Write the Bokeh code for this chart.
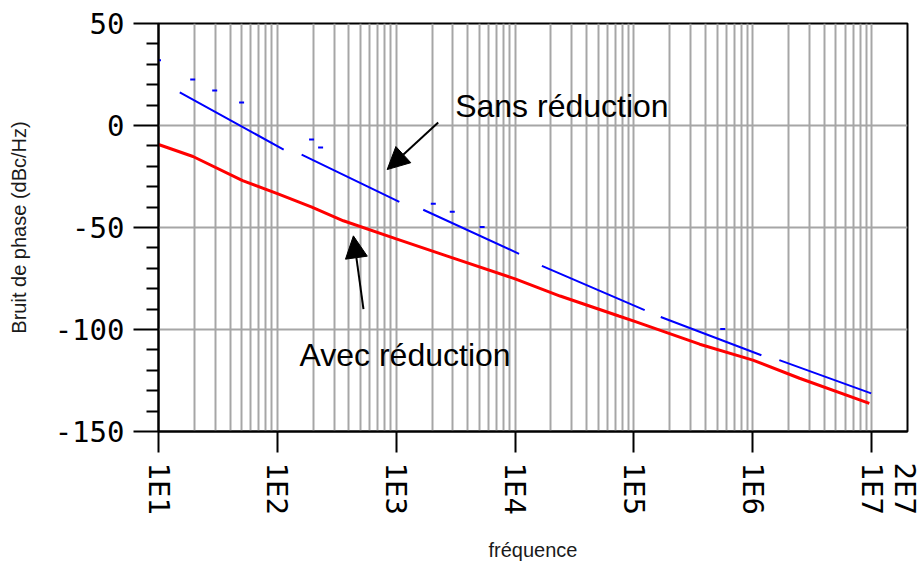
import math
from bokeh.plotting import figure
from bokeh.models import LogAxis, FixedTicker, Arrow, NormalHead, Label
from bokeh.embed import file_html
from bokeh.resources import INLINE

# ---- data ----
nan = float("nan")
freq_avec = [10, 19.5, 51, 100, 195, 359, 1000, 2850, 1.0e4, 2.39e4, 7.45e4, 1.0e5, 3.57e5, 1.0e6, 2.47e6, 9.55e6]
bruit_avec = [-9.3, -15.2, -27.0, -33.4, -40.0, -46.7, -55.6, -64.5, -75.2, -83.6, -93.4, -95.9, -107.2, -115.0, -123.9, -136.2]

freq_sans = [15.1, 113, nan, 160, 1062, nan, 1687, 10800, nan, 16800, 123000, nan, 168000, 1.18e6, nan, 1.67e6, 9.9e6]
bruit_sans = [16.2, -11.8, nan, -14.3, -37.4, nan, -41.3, -62.9, nan, -68.8, -90.5, nan, -93.9, -112.6, nan, -115.0, -131.3]

freq_spurs = [10, 19.4, 29.7, 50, 194, 231, 2050, 2960, 5280, 558000]
bruit_spurs = [32.0, 22.6, 17.2, 11.3, -6.9, -10.8, -38.4, -42.3, -49.7, -99.8]

x_ticks = [10, 100, 1000, 10000, 100000, 1000000, 10000000, 20000000]
x_tick_labels = ["1E1", "1E2", "1E3", "1E4", "1E5", "1E6", "1E7", "2E7"]
y_ticks = [-150, -100, -50, 0, 50]
y_tick_labels = ["-150", "-100", "-50", "0", "50"]

# ---- figure ----
p = figure(width=921, height=565, x_axis_type="log", x_range=(10, 2e7), y_range=(-150, 50),
           output_backend="svg", toolbar_location=None,
           min_border_left=158, min_border_top=23, min_border_right=14, min_border_bottom=134)
p.background_fill_color = "white"
p.border_fill_color = "white"
p.outline_line_color = "black"
p.outline_line_width = 2

grid_color = "#a6a6a6"
decades = x_ticks[:-1]
grid_x = [k * d for d in decades for k in range(1, 10) if k * d <= 2e7] + [2e7]
p.xgrid.ticker = FixedTicker(ticks=grid_x)
p.xgrid.grid_line_color = grid_color
p.xgrid.grid_line_width = 2
p.ygrid.ticker = FixedTicker(ticks=y_ticks)
p.ygrid.grid_line_color = grid_color
p.ygrid.grid_line_width = 2

tick_font = "DejaVu Sans Mono"
label_font = "Liberation Sans"

# y axis
ya = p.yaxis[0]
ya.ticker = FixedTicker(ticks=y_ticks, minor_ticks=[v for v in range(-150, 51, 10) if v not in y_ticks])
ya.major_label_overrides = dict(zip(y_ticks, y_tick_labels))
ya.major_tick_out = 25
ya.major_tick_in = 0
ya.minor_tick_out = 12
ya.minor_tick_in = 0
ya.major_tick_line_width = 2
ya.minor_tick_line_width = 2
ya.major_tick_line_color = "black"
ya.minor_tick_line_color = "black"
ya.axis_line_width = 2
ya.axis_line_color = "black"
ya.major_label_text_font = tick_font
ya.major_label_text_font_size = "29px"
ya.major_label_text_color = "black"
ya.major_label_standoff = 9
ya.axis_label = "Bruit de phase (dBc/Hz)"
ya.axis_label_text_font = label_font
ya.axis_label_text_font_size = "20px"
ya.axis_label_text_font_style = "normal"
ya.axis_label_text_color = "#1a1a1a"
ya.axis_label_standoff = 22

# x axis A: tick marks only
xa = p.xaxis[0]
xa.ticker = FixedTicker(ticks=decades, minor_ticks=[])
xa.major_label_overrides = {t: "" for t in decades}
xa.major_label_text_font_size = "1px"
xa.major_label_standoff = 0
xa.major_tick_out = 21
xa.major_tick_in = 0
xa.major_tick_line_width = 2
xa.major_tick_line_color = "black"
xa.minor_tick_line_color = None
xa.axis_line_width = 2
xa.axis_line_color = "black"

# x axis B: rotated labels
xb = LogAxis(ticker=FixedTicker(ticks=x_ticks, minor_ticks=[]))
xb.major_label_overrides = dict(zip(x_ticks, x_tick_labels))
xb.major_label_orientation = -math.pi / 2
xb.major_label_text_font = tick_font
xb.major_label_text_font_size = "29px"
xb.major_label_text_color = "black"
xb.major_label_standoff = 10
xb.major_tick_line_color = None
xb.major_tick_out = 0
xb.major_tick_in = 0
xb.minor_tick_line_color = None
xb.axis_line_color = None
xb.axis_label = "fréquence"
xb.axis_label_text_font = label_font
xb.axis_label_text_font_size = "20px"
xb.axis_label_text_font_style = "normal"
xb.axis_label_text_color = "#1a1a1a"
xb.axis_label_standoff = 21
p.add_layout(xb, "below")

# ---- data glyphs ----
p.line(freq_avec, bruit_avec, line_color="#ff0000", line_width=3)
p.line(freq_sans, bruit_sans, line_color="#0000ff", line_width=2)
p.scatter(freq_spurs, bruit_spurs, marker="dash", size=5, line_color="#0000ff", line_width=2)

# ---- annotations ----
arrow_sans = dict(x_start=2254, y_start=1.5, x_end=839, y_end=-21.6)
arrow_avec = dict(x_start=530, y_start=-90.0, x_end=436, y_end=-54.1)
for a in (arrow_sans, arrow_avec):
    p.add_layout(Arrow(end=NormalHead(size=22, fill_color="black", line_color="black", line_width=1),
                       line_color="black", line_width=2, **a))

p.add_layout(Label(x=3131, y=9.8, text="Sans réduction", text_font=label_font,
                   text_font_size="32px", text_color="black", text_baseline="alphabetic"))
p.add_layout(Label(x=153.5, y=-112.6, text="Avec réduction", text_font=label_font,
                   text_font_size="32px", text_color="black", text_baseline="alphabetic"))

open("out.html", "w").write(file_html(p, INLINE))
